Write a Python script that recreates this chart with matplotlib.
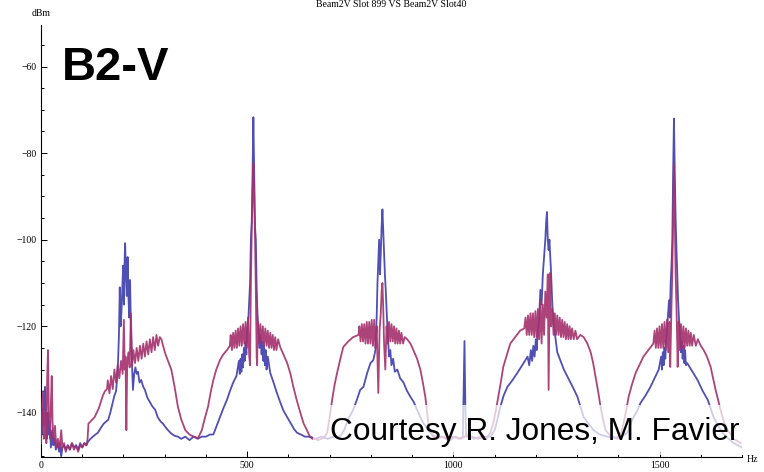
import matplotlib
matplotlib.use("Agg")
import matplotlib.pyplot as plt
from matplotlib.patches import Rectangle
from matplotlib.ticker import MultipleLocator

# magenta trace (Slot 899), Hz / dBm
mag_hz = [0, 3, 5, 7, 10, 13, 15, 17, 19, 22, 24, 26, 28, 31, 34, 37, 41, 45, 49, 52, 56, 60, 65, 70, 75, 80, 85, 90, 95,
          100, 105, 110, 113, 115, 120, 125, 130, 135, 140, 145, 150, 155, 160,
          162, 166, 170, 174, 178, 182, 186, 190, 194, 198, 201, 203, 205, 207, 209, 212, 215, 218, 221, 224, 228, 232,
          236, 240, 244, 248, 252, 256, 260, 264, 268, 272, 276, 280, 284, 288,
          292, 296, 302, 308, 316, 324, 332, 340, 350, 360, 370, 381, 390, 398, 405, 412, 418, 425, 434, 442, 451, 458,
          460, 463, 466, 469, 472, 475, 478, 481, 484, 487, 490, 493, 496, 499, 502, 505, 507, 509, 511, 513, 515, 517,
          519, 521, 523, 524, 526, 529, 532, 535, 538, 541, 544, 547, 550, 553, 556, 559, 562, 565, 568, 571, 575, 580,
          588, 597, 605, 612, 620, 629, 637, 645, 652, 658, 665, 672, 680, 688, 694, 700, 706, 712, 718, 726, 733, 745,
          757, 770,
          772, 775, 778, 781, 784, 787, 790, 793, 796, 799, 802, 805, 808, 811, 814, 818, 821, 824, 826, 828, 830, 832,
          835, 838, 841, 844, 847, 850, 853, 856, 859, 862, 865, 868, 871, 874, 878, 882,
          888, 896, 903, 912, 920, 926, 932, 936, 939, 945, 951, 960, 975, 990, 1005, 1020, 1035, 1050, 1065, 1080, 1090,
          1097, 1103, 1109, 1115, 1121, 1130, 1138, 1150, 1162, 1172,
          1175, 1178, 1181, 1184, 1187, 1190, 1193, 1196, 1199, 1202, 1205, 1208, 1211, 1214, 1217, 1220, 1223, 1226,
          1229, 1231, 1234, 1237, 1240, 1243, 1246, 1249, 1252, 1255, 1258, 1261, 1264, 1267, 1270, 1273, 1276, 1279,
          1282, 1285, 1288, 1292, 1296, 1300,
          1308, 1316, 1325, 1333, 1339, 1345, 1351, 1357, 1363, 1369, 1378, 1388, 1398, 1406, 1413, 1419, 1425, 1433,
          1442, 1451, 1461, 1473, 1485,
          1488, 1491, 1494, 1497, 1500, 1503, 1506, 1509, 1512, 1515, 1518, 1521, 1524, 1526, 1529, 1531, 1533, 1535,
          1537, 1539, 1541, 1544, 1546, 1549, 1552, 1555, 1558, 1561, 1564, 1567, 1570, 1573, 1576, 1579, 1583, 1588,
          1593,
          1600, 1607, 1615, 1624, 1630, 1636, 1642, 1648, 1656, 1665, 1673, 1680, 1688, 1697]
mag_dbm = [-147, -138, -135, -146, -140, -147, -132, -125.5, -140, -146, -138, -131.5, -142, -147, -143, -148, -146,
           -148.5, -144, -148, -147, -149, -147.5, -148.5, -147, -148.5, -147.5, -149, -147.5,
           -148, -147, -147.5, -146, -142.5, -142, -141.5, -141, -140, -139, -137.5, -136, -135, -134.5,
           -132.5, -135.5, -131.5, -134.5, -130, -133, -129, -132, -128, -131, -118.5, -130, -127, -144, -129, -126,
           -129.5, -117, -129, -125.5, -128.5, -125, -128, -124.5, -127.5, -124, -127, -123.5, -126.5, -123, -126,
           -122.5, -125.5, -122, -124.5, -122.5,
           -123, -124.5, -126.5, -128, -130, -134, -138.6, -141.5, -144, -145, -145.5, -145.8, -144, -141, -138.6,
           -135, -132.4, -130, -127.8, -126.5, -125.5, -124.5,
           -122, -125.5, -121.5, -125, -121, -125, -120.5, -124.5, -120, -124.5, -119.5, -124, -119, -125, -118, -127,
           -129, -110, -98, -90, -82.3, -90, -99, -112, -127, -129, -119, -124, -119.5, -124, -120, -124.5, -120.5,
           -124.5, -121, -125, -121.5, -125, -122, -125.5, -122.5, -125.5, -123, -124.8,
           -126.5, -128.5, -131, -134, -137, -140, -142.5, -144, -145.5, -146, -146, -146.3, -146, -145.5, -144.6,
           -141, -137, -133.5, -130.8, -127.5, -124.8, -123.5, -122.5, -122,
           -120, -123.5, -119.5, -123.5, -119.5, -124, -119, -124, -119, -124, -118.5, -124.5, -118.5, -125, -120,
           -135.4, -121, -117, -112, -110, -116, -124, -130, -120, -124, -119, -123.5, -119.5, -123.5, -120, -124,
           -120.5, -124, -121, -124, -121.5, -124, -122.5,
           -123, -124, -125.5, -127.5, -130, -133, -136.3, -139.5, -142.3, -144.5, -145.5, -146, -145.5, -146.5,
           -145.5, -146, -145, -146, -145.5, -146, -144.5, -142.3, -139.5, -136.3, -133, -129.4, -126.5, -124,
           -122.5, -121, -120.5,
           -118, -122, -117.5, -122, -117, -122, -117, -122.5, -116.5, -122.5, -116, -123, -114, -124, -115, -122,
           -112, -118, -108, -134.7, -107.7, -120, -116, -122, -117, -122, -117.5, -122, -118, -122.5, -118.5,
           -122.5, -119, -123, -119.5, -123, -120, -123, -120.5, -123, -121, -123,
           -122, -122.5, -124, -126, -128.5, -131.7, -135, -138.6, -141.5, -144, -145, -145.5, -146, -145, -142.3,
           -139.5, -136.3, -133.5, -130.8, -129, -127, -125.5, -124,
           -121, -125, -120.5, -125, -120, -125, -119.5, -125, -119, -125.5, -118.5, -126, -119, -129.4, -115,
           -107.7, -95, -82.3, -95, -107.7, -115, -129.4, -119, -125.5, -119.5, -125, -120, -125, -120.5, -124.5,
           -121, -124.5, -121.5, -124.5, -122, -124.5, -123,
           -124.5, -125.5, -127, -129.4, -132, -134.7, -137, -139.3, -142, -144, -145, -146, -146.5, -147]

# blue trace (Slot 40)
blue_hz = [0, 2, 4, 6, 8, 10, 12, 14, 16, 18, 21, 24, 27, 30, 33, 36, 40, 44, 47, 49, 52, 56, 60, 65, 70, 75, 80,
           85, 90, 95, 100, 105, 110, 114, 120, 126, 132, 138, 145, 152, 158, 163, 168, 173, 178, 182, 185, 187, 189,
           191, 193, 195, 197, 199, 201, 203, 204, 206, 208, 210, 212, 214, 216, 218, 220, 223, 226, 229, 232, 235,
           239, 243, 248, 252, 258, 264, 270, 277, 283, 290, 296, 301, 308, 316, 324, 332, 340, 350, 360, 370, 380,
           390, 400, 410, 418, 426, 434, 442, 451, 458, 466, 474,
           480, 482, 484, 486, 488, 490, 492, 494, 496, 498, 500, 503, 505, 507, 509,
           511, 513, 515, 517, 519, 521, 523, 525,
           527, 530, 532, 535, 537, 539, 541, 543, 545, 547, 550, 556, 564, 572, 580, 588, 597, 606, 614,
           621, 630, 640, 653, 665, 680, 695, 710, 725, 735, 745, 757, 766, 774, 782, 791, 799, 806, 811, 814, 816,
           818, 820, 822, 824, 826, 828, 830, 832, 834, 836, 838, 841, 844, 847, 850, 854, 858, 864, 871, 879, 888,
           896, 904, 912, 920, 927, 936, 944, 955, 970, 985, 1000, 1015, 1023, 1025, 1027, 1029, 1031, 1045, 1060,
           1075, 1090, 1100, 1107, 1114, 1122, 1131, 1143, 1155, 1167,
           1180, 1184, 1188, 1191, 1194, 1197, 1200, 1202, 1204, 1208, 1211, 1214,
           1217, 1220, 1223, 1225, 1227, 1229, 1231, 1233, 1235, 1237, 1240, 1244, 1248, 1252, 1260, 1268, 1276,
           1284, 1292, 1301, 1308, 1316, 1328, 1340, 1355, 1374, 1390, 1405, 1415, 1422, 1430, 1437, 1446, 1454,
           1466, 1478, 1488, 1498, 1504, 1506, 1508, 1510, 1512, 1514, 1516, 1518, 1521, 1523, 1525, 1527, 1529,
           1531, 1533, 1535, 1537, 1539, 1541, 1543, 1545, 1547,
           1550, 1552, 1554, 1556, 1558, 1560, 1562, 1564, 1567, 1580, 1592, 1605, 1617, 1624, 1631, 1642, 1653,
           1665, 1680, 1690, 1700]
blue_dbm = [-141, -145, -139, -143, -136, -134, -141, -146, -140, -145, -142, -148, -144, -147.5, -146, -148.5, -147,
            -149, -147, -150, -148, -147.5, -148.5, -147.5, -148.5, -147, -148, -147.5, -148.5, -147, -148, -147,
            -147.5, -146.7, -146, -145.5, -145, -144.6, -143.5, -142.5, -142, -141.6, -140, -138, -136, -135, -131.7,
            -127.8, -122, -111, -120, -117, -112, -106, -115, -104, -100.8, -108, -113, -104, -113, -118, -109.3,
            -120, -127, -134.7, -131, -129.5, -131, -130.5, -133, -132.4, -134, -134.7, -136.5, -137.5, -138.5,
            -139.3, -141, -142, -142.5, -143.2, -144, -144.8, -145.3, -145.5, -146, -145.5, -146.3, -145.5, -146,
            -145.5, -145.5, -145, -145, -143, -141, -139, -137, -135, -133, -131.5,
            -128, -131, -127.5, -130.5, -126.5, -129.5, -125, -128, -123.5, -126.5, -121, -118, -114, -110, -100,
            -96, -85, -71.7, -85, -97, -100, -111, -117,
            -120, -125, -122, -126.5, -123.5, -128, -124.5, -129, -125.5, -130, -127, -130.8, -133, -135.4, -137.5,
            -139.5, -141, -142.5, -143.8, -144.6, -145, -145.5, -145.5, -146,
            -145.5, -146, -145.5, -145.5, -144, -141.5, -139.3, -137, -134.7, -134, -130.8, -128.5, -127.8, -125.5,
            -118, -110, -105, -100, -108, -103, -97, -93, -98, -102.4, -108, -111.6, -116, -122, -127, -125.5, -129,
            -127.5, -130.5, -130, -132, -133, -135, -136.3, -137.5, -139.3, -141, -142.3, -143.5, -144.6, -145.5,
            -145.5, -146, -145.5, -146, -145.5, -135, -123.4, -138, -145.5, -145.5, -146, -145.5, -145.5, -144,
            -141.5, -138.6, -136, -134, -132.5, -130.8, -129,
            -127, -129, -125.5, -128, -124.5, -127, -123, -125.5, -122.5, -118, -111.6, -115,
            -108, -104, -100, -96, -93.6, -100, -102.4, -100, -104, -107.7, -115, -120, -123, -126, -128, -130, -131.5,
            -133, -134.5, -136.3, -138.5, -141, -142.5, -144, -145, -145.5, -145.8, -145.5, -145, -144.6, -142.5,
            -141, -139.5, -137.7, -136, -134, -132, -130, -127, -130, -126, -129, -125, -127.5, -123, -121, -117,
            -114, -118, -110, -106, -100, -84.6, -72, -84.6, -95, -102, -108, -114, -118,
            -122, -126, -123.5, -127.5, -124.5, -128.5, -125.5, -129, -128.5, -130.5, -132.4, -135, -137, -139, -141,
            -143, -144.6, -145.8, -147, -147.5, -148]

title = "Beam2V Slot 899 VS Beam2V Slot40"

fig = plt.figure(figsize=(7.64, 4.72), dpi=100)
ax = fig.add_axes([41 / 764, 15 / 472, 701 / 764, 432 / 472])

ax.plot(mag_hz, mag_dbm, color="#a3306c", lw=1.3, alpha=0.9, zorder=3)
ax.plot(blue_hz, blue_dbm, color="#3c3cac", lw=1.3, alpha=0.9, zorder=2)

ax.set_xlim(0, 1700)
ax.set_ylim(-150.2, -50.4)
for s in ["top", "right"]:
    ax.spines[s].set_visible(False)
for s in ["left", "bottom"]:
    ax.spines[s].set_linewidth(0.8)

ax.xaxis.set_major_locator(MultipleLocator(500))
ax.xaxis.set_minor_locator(MultipleLocator(100))
ax.yaxis.set_major_locator(MultipleLocator(20))
ax.yaxis.set_minor_locator(MultipleLocator(5))
ax.tick_params(which="both", direction="in", width=0.7, labelsize=7, pad=3)
ax.tick_params(which="major", length=4)
ax.tick_params(which="minor", length=2.5)
ax.set_yticklabels([f"\u2212{abs(int(v))}" if v < 0 else str(int(v)) for v in ax.get_yticks()])
ax.set_xticklabels([str(int(v)) for v in ax.get_xticks()])
for lab in ax.get_xticklabels() + ax.get_yticklabels():
    lab.set_family("Liberation Serif")

fig.text(41 / 764, 1 - 13 / 472, "dBm", family="Liberation Serif", fontsize=7, ha="center", va="center")
fig.text(752 / 764, 1 - 460 / 472, "Hz", family="Liberation Serif", fontsize=7, ha="center", va="center")
fig.text(391 / 764, 1.0, title, family="Liberation Serif", fontsize=7, ha="center", va="top")

fig.text(62 / 764, 1 - 80 / 472, "B2-V", family="Liberation Sans", fontweight="bold", fontsize=34,
         ha="left", va="baseline")

# translucent white box behind the credit line
fig.add_artist(Rectangle((313 / 764, 1 - 455 / 472), 440 / 764, 50 / 472, transform=fig.transFigure,
                         facecolor="white", edgecolor="none", alpha=0.72, zorder=5))
fig.text(330 / 764, 1 - 440 / 472, "Courtesy R. Jones, M. Favier", family="Liberation Sans", fontsize=22.8,
         ha="left", va="baseline", zorder=6)

fig.savefig("out.png", dpi=100)
